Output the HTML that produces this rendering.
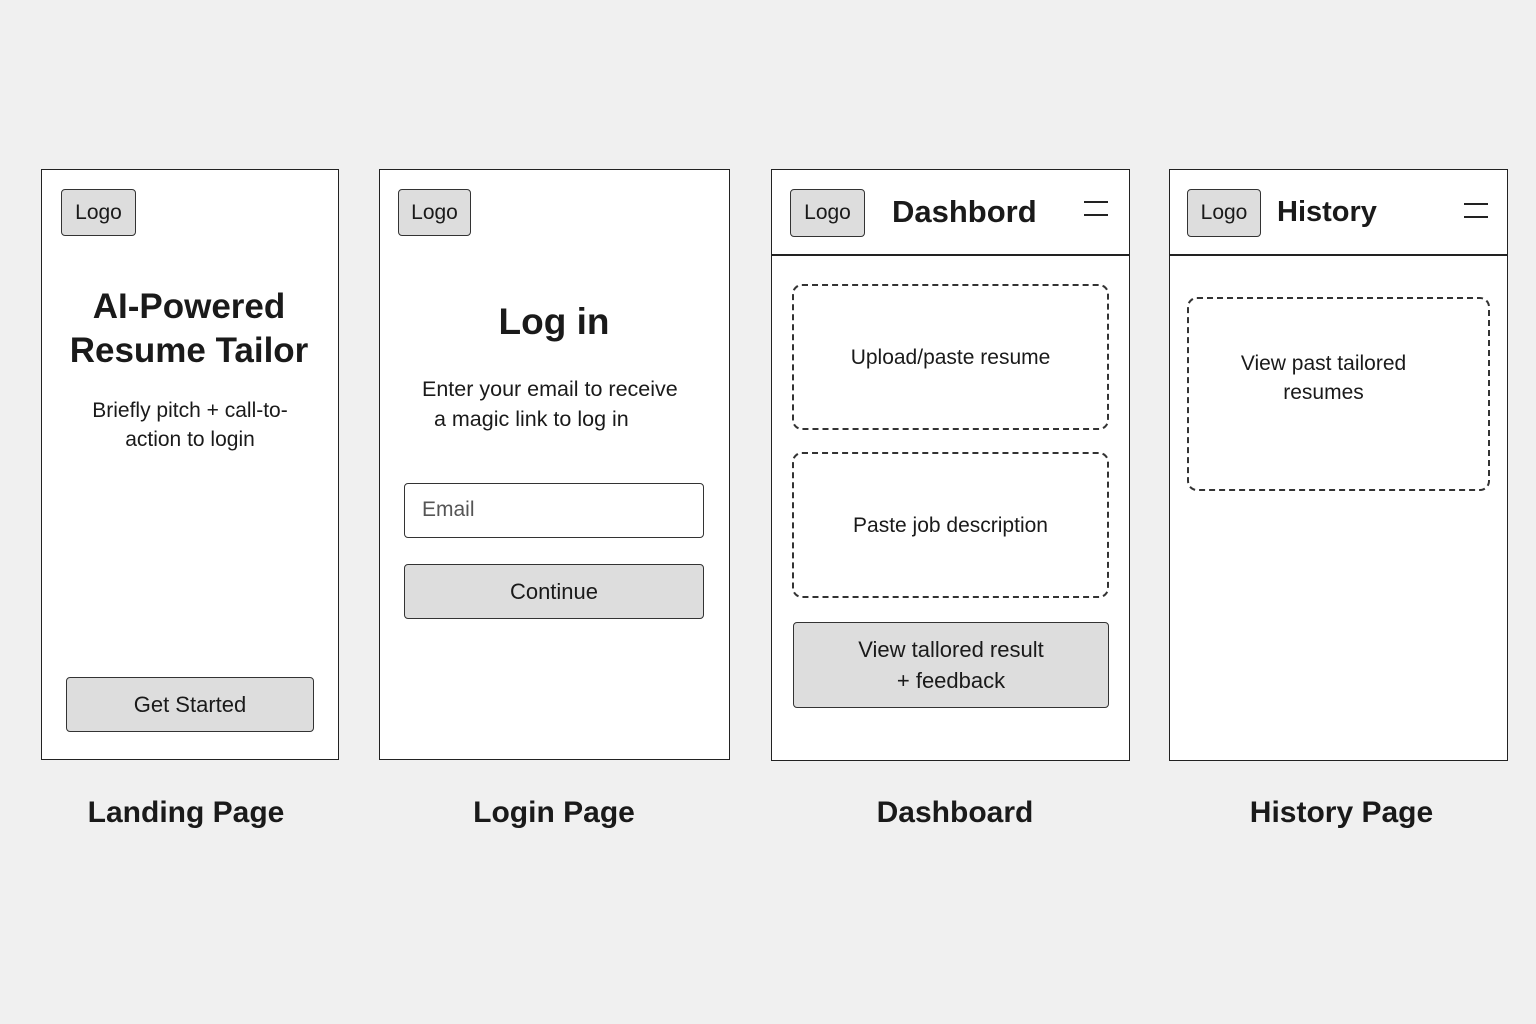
<!DOCTYPE html>
<html><head><meta charset="utf-8"><style>
body{margin:0;width:1536px;height:1024px;background:#f0f0f0;position:relative;font-family:"Liberation Sans",sans-serif;color:#1a1a1a;overflow:hidden}
.a{position:absolute;box-sizing:border-box}
.frame{background:#fff;border:1.5px solid #222}
.logo{background:#ddd;border:1.5px solid #333;border-radius:4px;font-size:21px;display:flex;align-items:center;justify-content:center}
.btn{background:#ddd;border:1.5px solid #333;border-radius:4px;font-size:22px;display:flex;align-items:center;justify-content:center;text-align:center;line-height:31px}
.dash{border:2px dashed #333;border-radius:10px;display:flex;align-items:center;justify-content:center;text-align:center;font-size:21px;line-height:29px}
.t{text-align:center}
.cap{font-size:30px;text-align:center;font-weight:600}
.hl{height:1.5px;background:#222}
</style></head><body>
<!-- Landing -->
<div class="a frame" style="left:41px;top:169px;width:298px;height:591px"></div>
<div class="a logo" style="left:61px;top:189px;width:75px;height:47px">Logo</div>
<div class="a t" style="left:41px;top:285px;width:296px;font-size:35px;font-weight:600;line-height:44px">AI-Powered<br>Resume Tailor</div>
<div class="a t" style="left:60px;top:396px;width:260px;font-size:21px;line-height:29px">Briefly pitch + call-to-<br>action to login</div>
<div class="a btn" style="left:66px;top:677px;width:248px;height:55px">Get Started</div>
<div class="a cap" style="left:41px;top:796px;width:290px">Landing Page</div>
<!-- Login -->
<div class="a frame" style="left:379px;top:169px;width:351px;height:591px"></div>
<div class="a logo" style="left:398px;top:189px;width:73px;height:47px">Logo</div>
<div class="a t" style="left:379px;top:301px;width:350px;font-size:37px;font-weight:600">Log in</div>
<div class="a" style="left:422px;top:374px;width:300px;font-size:21.5px;line-height:30px">Enter your email to receive<br>&nbsp;&nbsp;a magic link to log in</div>
<div class="a" style="left:404px;top:483px;width:300px;height:55px;border:1.5px solid #333;border-radius:4px;font-size:21px;color:#555;padding:14px 0 0 17px">Email</div>
<div class="a btn" style="left:404px;top:564px;width:300px;height:55px">Continue</div>
<div class="a cap" style="left:379px;top:796px;width:350px">Login Page</div>
<!-- Dashboard -->
<div class="a frame" style="left:771px;top:169px;width:359px;height:592px"></div>
<div class="a hl" style="left:771px;top:254px;width:359px"></div>
<div class="a logo" style="left:790px;top:189px;width:75px;height:48px">Logo</div>
<div class="a" style="left:892px;top:194px;font-size:31px;font-weight:600">Dashbord</div>
<div class="a" style="left:1084px;top:201px;width:24px;height:1.5px;background:#222"></div>
<div class="a" style="left:1084px;top:214px;width:24px;height:1.5px;background:#222"></div>
<div class="a dash" style="left:792px;top:284px;width:317px;height:146px">Upload/paste resume</div>
<div class="a dash" style="left:792px;top:452px;width:317px;height:146px">Paste job description</div>
<div class="a btn" style="left:793px;top:622px;width:316px;height:86px">View tallored result<br>+ feedback</div>
<div class="a cap" style="left:771px;top:796px;width:368px">Dashboard</div>
<!-- History -->
<div class="a frame" style="left:1169px;top:169px;width:339px;height:592px"></div>
<div class="a hl" style="left:1169px;top:254px;width:339px"></div>
<div class="a logo" style="left:1187px;top:189px;width:74px;height:48px">Logo</div>
<div class="a" style="left:1277px;top:196px;font-size:29px;font-weight:600">History</div>
<div class="a" style="left:1464px;top:203px;width:24px;height:1.5px;background:#222"></div>
<div class="a" style="left:1464px;top:216px;width:24px;height:1.5px;background:#222"></div>
<div class="a dash" style="left:1187px;top:297px;width:303px;height:194px;padding-bottom:32px;padding-right:30px">View past tailored<br>resumes</div>
<div class="a cap" style="left:1169px;top:796px;width:345px">History Page</div>
</body></html>
